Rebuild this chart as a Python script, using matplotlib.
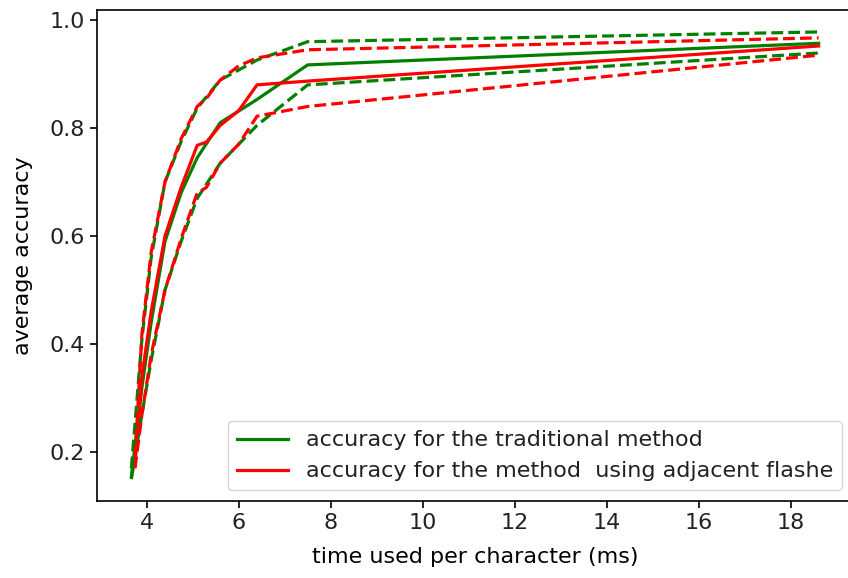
import numpy as np
import matplotlib
matplotlib.use("Agg")
import matplotlib.pyplot as plt

# time used per character (ms)
x_trad = [3.67, 3.9, 4.1, 4.4, 4.75, 5.1, 5.6, 6.4, 7.5, 18.6]
x_adj = [3.75, 3.9, 4.1, 4.4, 4.75, 5.1, 5.3, 5.6, 6.0, 6.4, 7.5, 18.6]

# traditional method: mean, upper and lower band
trad_mean = [0.155, 0.32, 0.44, 0.59, 0.68, 0.745, 0.81, 0.853, 0.917, 0.957]
trad_upper = [0.17, 0.41, 0.56, 0.70, 0.775, 0.837, 0.889, 0.926, 0.960, 0.978]
trad_lower = [0.15, 0.27, 0.37, 0.50, 0.59, 0.67, 0.735, 0.805, 0.88, 0.939]

# method using adjacent flashes: mean, upper and lower band
adj_mean = [0.18, 0.34, 0.46, 0.60, 0.69, 0.768, 0.774, 0.805, 0.832, 0.88, 0.887, 0.952]
adj_upper = [0.19, 0.42, 0.57, 0.70, 0.78, 0.84, 0.855, 0.889, 0.915, 0.93, 0.945, 0.967]
adj_lower = [0.17, 0.27, 0.38, 0.50, 0.595, 0.68, 0.69, 0.735, 0.77, 0.822, 0.84, 0.935]

plt.rcParams['font.size'] = 16
plt.rcParams['text.color'] = '#222222'
plt.rcParams['xtick.labelcolor'] = '#222222'
plt.rcParams['ytick.labelcolor'] = '#222222'

fig = plt.figure(figsize=(8.48, 5.78), dpi=100)
ax = fig.add_axes([97 / 848, 0.1324, 756 / 848, 0.851])

lw = 2.3
ax.plot(x_trad, trad_mean, color='g', lw=lw, label='accuracy for the traditional method')
ax.plot(x_adj, adj_mean, color='r', lw=lw, label='accuracy for the method  using adjacent flashe')
ax.plot(x_trad, trad_upper, 'g--', lw=lw)
ax.plot(x_trad, trad_lower, 'g--', lw=lw)
ax.plot(x_adj, adj_upper, 'r--', lw=lw)
ax.plot(x_adj, adj_lower, 'r--', lw=lw)

ax.set_xticks([4, 6, 8, 10, 12, 14, 16, 18])
ax.set_yticks([0.2, 0.4, 0.6, 0.8, 1.0])
ax.tick_params(length=5, width=1.2)
for s in ax.spines.values():
    s.set_linewidth(1.2)

ax.set_xlabel('time used per character (ms)', labelpad=10)
ax.set_ylabel('average accuracy', labelpad=12)
ax.legend(loc='lower right', handlelength=2.3)

fig.savefig('out.png', dpi=100)
